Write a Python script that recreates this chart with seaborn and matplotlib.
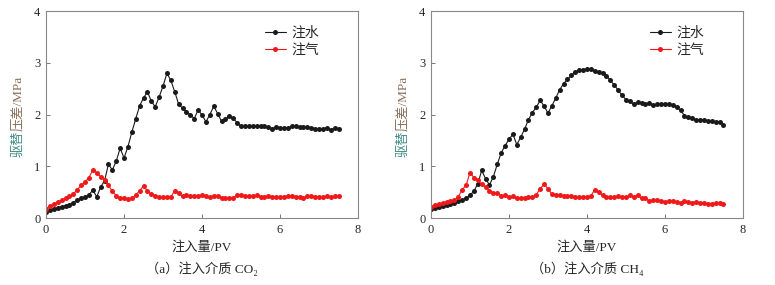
import numpy as np
import matplotlib
matplotlib.use('Agg')
import matplotlib.pyplot as plt
import seaborn as sns

# 注入量 (PV)，每 0.1 PV 一个点
pv = np.round(np.linspace(0, 7.5, 76), 1)

# (a) 注入介质 CO2
co2_water = [0.12, 0.15, 0.18, 0.20, 0.22, 0.24, 0.26, 0.30, 0.35, 0.38,
             0.41, 0.45, 0.54, 0.41, 0.60, 0.72, 1.04, 0.93, 1.10, 1.35,
             1.16, 1.38, 1.66, 1.92, 2.17, 2.32, 2.44, 2.26, 2.15, 2.34,
             2.55, 2.80, 2.66, 2.44, 2.20, 2.12, 2.05, 2.00, 1.92, 2.09,
             1.99, 1.86, 2.00, 2.16, 2.02, 1.87, 1.91, 1.97, 1.93, 1.84,
             1.77, 1.77, 1.78, 1.78, 1.78, 1.78, 1.77, 1.76, 1.73, 1.76,
             1.75, 1.74, 1.74, 1.77, 1.77, 1.76, 1.76, 1.76, 1.75, 1.73,
             1.73, 1.72, 1.75, 1.71, 1.74, 1.73]
co2_gas = [0.17, 0.24, 0.27, 0.31, 0.34, 0.38, 0.42, 0.46, 0.55, 0.63,
           0.70, 0.78, 0.93, 0.87, 0.80, 0.74, 0.63, 0.52, 0.43, 0.39,
           0.39, 0.36, 0.38, 0.44, 0.53, 0.62, 0.52, 0.46, 0.42, 0.40,
           0.40, 0.41, 0.41, 0.53, 0.49, 0.42, 0.44, 0.43, 0.43, 0.43,
           0.44, 0.42, 0.41, 0.42, 0.43, 0.39, 0.39, 0.39, 0.39, 0.44,
           0.45, 0.43, 0.43, 0.43, 0.44, 0.41, 0.41, 0.43, 0.41, 0.41,
           0.41, 0.41, 0.43, 0.42, 0.41, 0.41, 0.39, 0.42, 0.42, 0.41,
           0.41, 0.41, 0.42, 0.41, 0.42, 0.42]

# (b) 注入介质 CH4
ch4_water = [0.18, 0.20, 0.22, 0.24, 0.26, 0.28, 0.30, 0.32, 0.35, 0.38,
             0.44, 0.52, 0.66, 0.92, 0.76, 0.64, 0.80, 1.04, 1.26, 1.40,
             1.52, 1.62, 1.42, 1.56, 1.72, 1.90, 2.04, 2.14, 2.28, 2.16,
             2.03, 2.17, 2.32, 2.48, 2.60, 2.68, 2.76, 2.82, 2.86, 2.86,
             2.89, 2.88, 2.84, 2.82, 2.80, 2.75, 2.66, 2.57, 2.47, 2.37,
             2.29, 2.26, 2.20, 2.24, 2.22, 2.20, 2.23, 2.18, 2.20, 2.20,
             2.20, 2.21, 2.18, 2.15, 2.08, 1.98, 1.95, 1.93, 1.90, 1.89,
             1.90, 1.88, 1.87, 1.85, 1.85, 1.80]
ch4_gas = [0.22, 0.25, 0.27, 0.29, 0.31, 0.33, 0.35, 0.41, 0.55, 0.63,
           0.88, 0.78, 0.73, 0.65, 0.60, 0.53, 0.49, 0.48, 0.43, 0.44,
           0.41, 0.42, 0.38, 0.38, 0.39, 0.40, 0.40, 0.45, 0.57, 0.65,
           0.57, 0.46, 0.45, 0.45, 0.43, 0.42, 0.43, 0.40, 0.41, 0.41,
           0.41, 0.43, 0.55, 0.50, 0.44, 0.40, 0.40, 0.41, 0.42, 0.41,
           0.40, 0.44, 0.41, 0.44, 0.38, 0.38, 0.33, 0.35, 0.34, 0.33,
           0.31, 0.32, 0.33, 0.31, 0.30, 0.32, 0.31, 0.30, 0.31, 0.30,
           0.30, 0.28, 0.28, 0.29, 0.29, 0.28]

captions = ['（a）注入介质 CO₂', '（b）注入介质 CH₄']
series_names = ['注水', '注气']

sns.set_style('white')
plt.rcParams['font.family'] = ['Liberation Serif', 'Noto Sans CJK SC', 'DejaVu Serif']
plt.rcParams['axes.unicode_minus'] = False

fig = plt.figure(figsize=(7.75, 2.85), dpi=100)
ax_a = fig.add_axes([0.0594, 0.235, 0.4026, 0.726])
ax_b = fig.add_axes([0.5561, 0.235, 0.4026, 0.726])
renderer = fig.canvas.get_renderer()

panels = [(ax_a, co2_water, co2_gas), (ax_b, ch4_water, ch4_gas)]
for i, (ax, water, gas) in enumerate(panels):
    sns.lineplot(x=pv, y=water, ax=ax, color='#1a1a1a', marker='o',
                 markersize=3.6, markeredgewidth=0, linewidth=0.8,
                 label=series_names[0])
    sns.lineplot(x=pv, y=gas, ax=ax, color='#f01818', marker='o',
                 markersize=3.6, markeredgewidth=0, linewidth=0.8,
                 label=series_names[1])
    ax.set_xlim(0, 8)
    ax.set_ylim(0, 4)
    ax.set_xticks([0, 2, 4, 6, 8])
    ax.set_yticks([0, 1, 2, 3, 4])
    ax.tick_params(direction='in', length=3, width=0.7, color='#777777',
                   labelsize=9, pad=4, left=True, bottom=True)
    for sp in ax.spines.values():
        sp.set_color('#888888')
        sp.set_linewidth(0.8)
    ax.set_xlabel('注入量/PV', fontsize=9.5, labelpad=4)
    ax.set_ylabel('')
    ax.legend(loc='upper right', bbox_to_anchor=(0.915, 0.985), frameon=False,
              fontsize=10, handlelength=1.5, handletextpad=0.4,
              labelspacing=0.25)

    # 纵轴标题：驱替（青色）+ 压差/MPa（棕色），首尾相接
    pos = ax.get_position()
    lx = pos.x0 - 0.036
    t1 = fig.text(lx, 0.449, '驱替', rotation=90, ha='center',
                  va='bottom', fontsize=9.5, color='#3f8a86')
    bb = t1.get_window_extent(renderer).transformed(fig.transFigure.inverted())
    fig.text(lx, bb.y1, '压差/MPa', rotation=90, ha='center',
             va='bottom', fontsize=9.5, color='#8a6f5a')

    fig.text(pos.x0 + pos.width / 2, 0.03, captions[i], ha='center',
             va='bottom', fontsize=9.5)

fig.savefig('out.png', dpi=100)
